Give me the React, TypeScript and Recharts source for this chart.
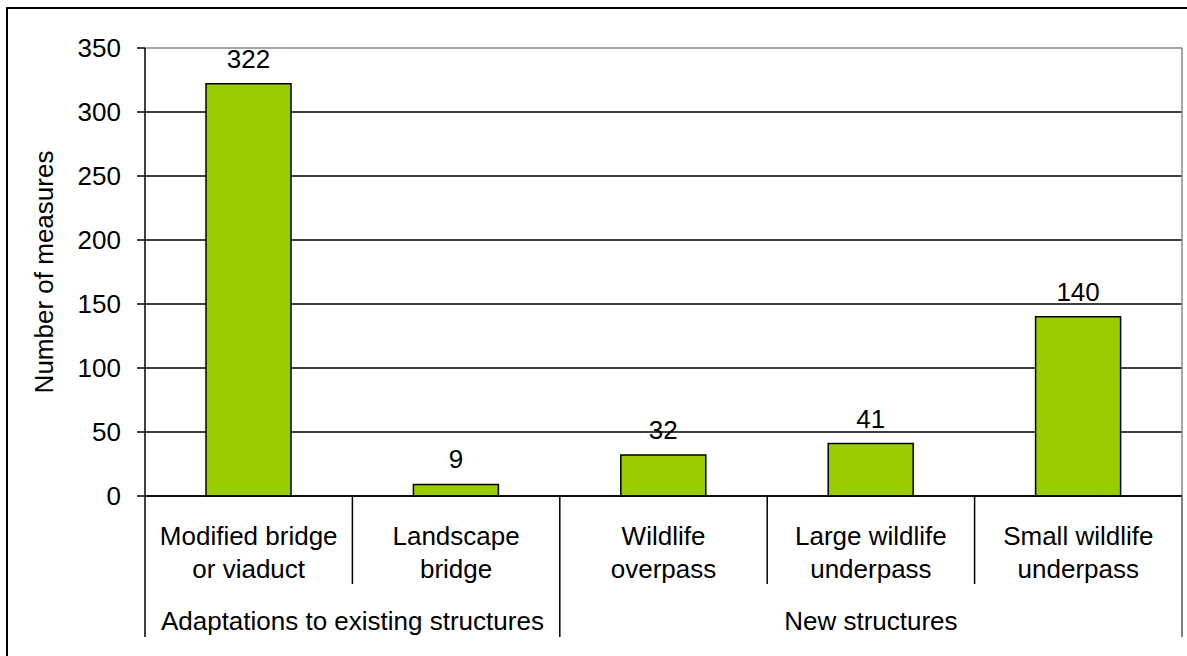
import React from 'react';
import { BarChart, Bar, XAxis, YAxis, CartesianGrid, LabelList } from 'recharts';

const categoryLines: string[][] = [
  ['Modified bridge', 'or viaduct'],
  ['Landscape', 'bridge'],
  ['Wildlife', 'overpass'],
  ['Large wildlife', 'underpass'],
  ['Small wildlife', 'underpass'],
];
const measures = [322, 9, 32, 41, 140];
const groupNames = ['Adaptations to existing structures', 'New structures'];
const groupSizes = [2, 3];
const yTicks = [0, 50, 100, 150, 200, 250, 300, 350];

const data = categoryLines.map((lines, i) => ({ name: lines.join(' '), value: measures[i] }));

const W = 1187;
const H = 656;
const FONT = '"Liberation Sans", Arial, sans-serif';
const FS = 26;
const Y_AXIS_W = 145;
const M_RIGHT = 5;
const BAND = (W - Y_AXIS_W - M_RIGHT) / categoryLines.length;

const groupStarts: number[] = [];
groupSizes.reduce((acc, n) => {
  groupStarts.push(acc);
  return acc + n;
}, 0);

const CategoryTick = (props: any) => {
  const { x, y, payload } = props;
  const i = payload.index;
  const left = x - BAND / 2;
  const g = groupStarts.indexOf(i);
  const last = i === categoryLines.length - 1;
  return (
    <g>
      <line x1={left} y1={y} x2={left} y2={y + (g >= 0 ? 141 : 88)} stroke="#000" strokeWidth={1.5} />
      {last && <line x1={left + BAND} y1={y} x2={left + BAND} y2={y + 141} stroke="#555" strokeWidth={1.5} />}
      {categoryLines[i].map((t, k) => (
        <text key={k} x={x} y={y + 49 + k * 33} textAnchor="middle" fill="#000" fontSize={FS} fontFamily={FONT}>
          {t}
        </text>
      ))}
      {g >= 0 && (
        <text x={left + (groupSizes[g] * BAND) / 2} y={y + 134} textAnchor="middle" fill="#000" fontSize={FS} fontFamily={FONT}>
          {groupNames[g]}
        </text>
      )}
    </g>
  );
};

const GridLine = (p: any) => {
  const isTop = p.y !== undefined ? Math.abs(p.y1 - p.y) < 1 : p.index === yTicks.length - 1;
  if (!isTop) {
    return <line key={`h-${p.index}`} x1={p.x1} y1={p.y1} x2={p.x2} y2={p.y2} stroke="#000" strokeWidth={1.5} />;
  }
  return (
    <g key={`h-${p.index}`}>
      <line x1={p.x1} y1={p.y1} x2={p.x2} y2={p.y2} stroke="#888" strokeWidth={1.5} />
      <line x1={p.x2} y1={p.y1} x2={p.x2} y2={p.y1 + p.height} stroke="#888" strokeWidth={1.5} />
    </g>
  );
};

const YLabel = (props: any) => {
  const vb = props.viewBox;
  const cx = vb.x + 53;
  const cy = vb.y + vb.height / 2;
  return (
    <text x={cx} y={cy} transform={`rotate(-90, ${cx}, ${cy})`} textAnchor="middle" fill="#000" fontSize={FS} fontFamily={FONT}>
      Number of measures
    </text>
  );
};

const App: React.FC = () => {
  return (
    <div style={{ position: 'absolute', left: 0, top: 0, width: W, height: H, background: '#fff', fontFamily: FONT }}>
      <div
        style={{
          position: 'absolute',
          left: 6,
          top: 7,
          width: W,
          height: H,
          borderTop: '2px solid #000',
          borderLeft: '2px solid #000',
        }}
      />
      <div style={{ position: 'absolute', left: 0, top: 0 }}>
        <BarChart width={W} height={H} data={data} margin={{ top: 48, right: M_RIGHT, left: 0, bottom: 0 }}>
          <CartesianGrid vertical={false} horizontal={GridLine} stroke="#000" />
          <XAxis
            dataKey="name"
            height={160}
            interval={0}
            tickLine={false}
            tickSize={0}
            tickMargin={0}
            axisLine={{ stroke: '#000', strokeWidth: 1.5 }}
            tick={<CategoryTick />}
          />
          <YAxis
            width={Y_AXIS_W}
            domain={[0, 350]}
            ticks={yTicks}
            interval={0}
            tickSize={8}
            tickMargin={16}
            tickLine={{ stroke: '#000', strokeWidth: 1.5 }}
            axisLine={{ stroke: '#000', strokeWidth: 1.5 }}
            tick={{ fill: '#000', fontSize: FS, fontFamily: FONT }}
            label={<YLabel />}
          />
          <Bar dataKey="value" fill="#99CC00" stroke="#000" strokeWidth={1.5} barSize={85} isAnimationActive={false}>
            <LabelList dataKey="value" position="top" offset={16} fill="#000" fontSize={FS} fontFamily={FONT} />
          </Bar>
        </BarChart>
      </div>
    </div>
  );
};

export default App;
